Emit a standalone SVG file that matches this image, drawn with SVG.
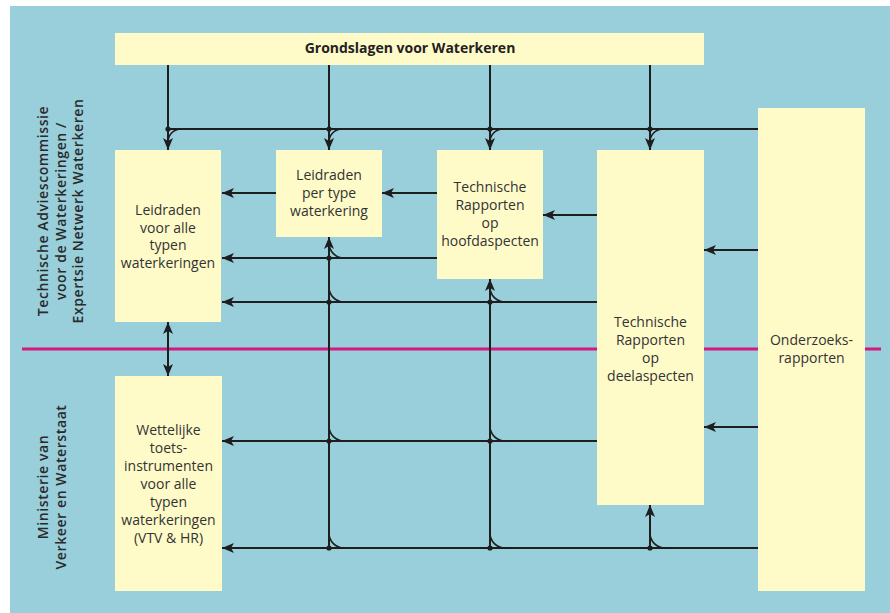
<svg xmlns="http://www.w3.org/2000/svg" width="890" height="613" viewBox="0 0 890 613">
<defs>
<marker id="ah" markerUnits="userSpaceOnUse" markerWidth="12" markerHeight="10" refX="12" refY="5" orient="auto-start-reverse"><path d="M0,0 L12,5 L0,10 L3,5 z" fill="#1e1e1e"/></marker>
<style>
.box{fill:#FEFBC9}
.t{font-family:"Open Sans","Noto Sans","DejaVu Sans",sans-serif;font-size:14px;fill:#333;text-anchor:middle}
.b{font-weight:bold;fill:#222}
.side{font-family:"Open Sans","Noto Sans","DejaVu Sans",sans-serif;font-size:14px;font-weight:600;fill:#2a2a2a;text-anchor:middle;letter-spacing:0.6px}
.ln{stroke:#1e1e1e;stroke-width:2;fill:none}
.ar{marker-end:url(#ah)}
.da{marker-start:url(#ah);marker-end:url(#ah)}
.dot{fill:#1e1e1e}
.fl{stroke:#1e1e1e;stroke-width:1.6;fill:none}
</style>
</defs>
<rect x="10" y="6" width="880" height="607" fill="#99CEDB"/>
<line x1="22" y1="349" x2="881" y2="349" stroke="#D5197E" stroke-width="3.2"/>
<g id="labels">
<text class="side" transform="translate(48,211) rotate(-90)">Technische Adviescommissie</text>
<text class="side" transform="translate(66,211) rotate(-90)">voor de Waterkeringen /</text>
<text class="side" transform="translate(83,211) rotate(-90)">Expertsie Netwerk Waterkeren</text>
<text class="side" transform="translate(48,487) rotate(-90)">Ministerie van</text>
<text class="side" transform="translate(66,487) rotate(-90)">Verkeer en Waterstaat</text>
</g>
<g id="grondslagen">
<rect class="box" x="115" y="33" width="589" height="32"/>
<text class="t b" x="410" y="53">Grondslagen voor Waterkeren</text>
</g>
<g id="leidraden-alle">
<rect class="box" x="115" y="150" width="106" height="172"/>
<text class="t" x="168" y="215">Leidraden</text>
<text class="t" x="168" y="232.5">voor alle</text>
<text class="t" x="168" y="250">typen</text>
<text class="t" x="168" y="267.5">waterkeringen</text>
</g>
<g id="leidraden-type">
<rect class="box" x="276" y="150" width="106" height="87"/>
<text class="t" x="329" y="180">Leidraden</text>
<text class="t" x="329" y="198">per type</text>
<text class="t" x="329" y="216">waterkering</text>
</g>
<g id="tr-hoofd">
<rect class="box" x="437" y="150" width="106" height="129"/>
<text class="t" x="490" y="192">Technische</text>
<text class="t" x="490" y="210">Rapporten</text>
<text class="t" x="490" y="228">op</text>
<text class="t" x="490" y="246">hoofdaspecten</text>
</g>
<g id="tr-deel">
<rect class="box" x="597" y="150" width="107" height="355"/>
<text class="t" x="650.5" y="326.5">Technische</text>
<text class="t" x="650.5" y="344.5">Rapporten</text>
<text class="t" x="650.5" y="362.5">op</text>
<text class="t" x="650.5" y="380.5">deelaspecten</text>
</g>
<g id="onderzoek">
<rect class="box" x="758" y="108" width="107" height="483"/>
<text class="t" x="811.5" y="345">Onderzoeks-</text>
<text class="t" x="811.5" y="363">rapporten</text>
</g>
<g id="wettelijk">
<rect class="box" x="115" y="376" width="107" height="215"/>
<text class="t" x="168.5" y="435">Wettelijke</text>
<text class="t" x="168.5" y="453">toets-</text>
<text class="t" x="168.5" y="471">instrumenten</text>
<text class="t" x="168.5" y="489">voor alle</text>
<text class="t" x="168.5" y="507">typen</text>
<text class="t" x="168.5" y="525">waterkeringen</text>
<text class="t" x="168.5" y="543">(VTV &amp; HR)</text>
</g>
<g id="connectors">
<line class="ln ar" x1="168" y1="65" x2="168" y2="150"/>
<line class="ln ar" x1="329" y1="65" x2="329" y2="150"/>
<line class="ln ar" x1="490" y1="65" x2="490" y2="150"/>
<line class="ln ar" x1="650" y1="65" x2="650" y2="150"/>
<line class="ln" x1="758" y1="129" x2="168" y2="129"/>
<path class="fl" d="M181 129 A13 13 0 0 0 168 142 M342 129 A13 13 0 0 0 329 142 M503 129 A13 13 0 0 0 490 142 M663 129 A13 13 0 0 0 650 142"/>
<circle class="dot" cx="168" cy="129" r="2.6"/>
<circle class="dot" cx="329" cy="129" r="2.6"/>
<circle class="dot" cx="490" cy="129" r="2.6"/>
<circle class="dot" cx="650" cy="129" r="2.6"/>
<line class="ln ar" x1="276" y1="193" x2="222" y2="193"/>
<line class="ln ar" x1="437" y1="193" x2="382" y2="193"/>
<line class="ln ar" x1="597" y1="215" x2="543" y2="215"/>
<line class="ln ar" x1="758" y1="250" x2="704" y2="250"/>
<line class="ln ar" x1="758" y1="427" x2="704" y2="427"/>
<line class="ln ar" x1="437" y1="258" x2="222" y2="258"/>
<line class="ln ar" x1="597" y1="302" x2="222" y2="302"/>
<line class="ln ar" x1="597" y1="441" x2="222" y2="441"/>
<line class="ln ar" x1="758" y1="548" x2="222" y2="548"/>
<line class="ln ar" x1="329" y1="548" x2="329" y2="237"/>
<line class="ln ar" x1="490" y1="548" x2="490" y2="279"/>
<line class="ln ar" x1="650" y1="548" x2="650" y2="505"/>
<line class="ln da" x1="168" y1="322" x2="168" y2="376"/>
<path class="fl" d="M344 258 A15 15 0 0 1 329 243 M344 302 A15 15 0 0 1 329 287 M505 302 A15 15 0 0 1 490 287 M344 441 A15 15 0 0 1 329 426 M505 441 A15 15 0 0 1 490 426 M344 548 A15 15 0 0 1 329 533 M505 548 A15 15 0 0 1 490 533 M665 548 A15 15 0 0 1 650 533"/>
<circle class="dot" cx="329" cy="258" r="2.6"/>
<circle class="dot" cx="329" cy="302" r="2.6"/>
<circle class="dot" cx="490" cy="302" r="2.6"/>
<circle class="dot" cx="329" cy="441" r="2.6"/>
<circle class="dot" cx="490" cy="441" r="2.6"/>
<circle class="dot" cx="329" cy="548" r="2.6"/>
<circle class="dot" cx="490" cy="548" r="2.6"/>
<circle class="dot" cx="650" cy="548" r="2.6"/>
</g>
</svg>
